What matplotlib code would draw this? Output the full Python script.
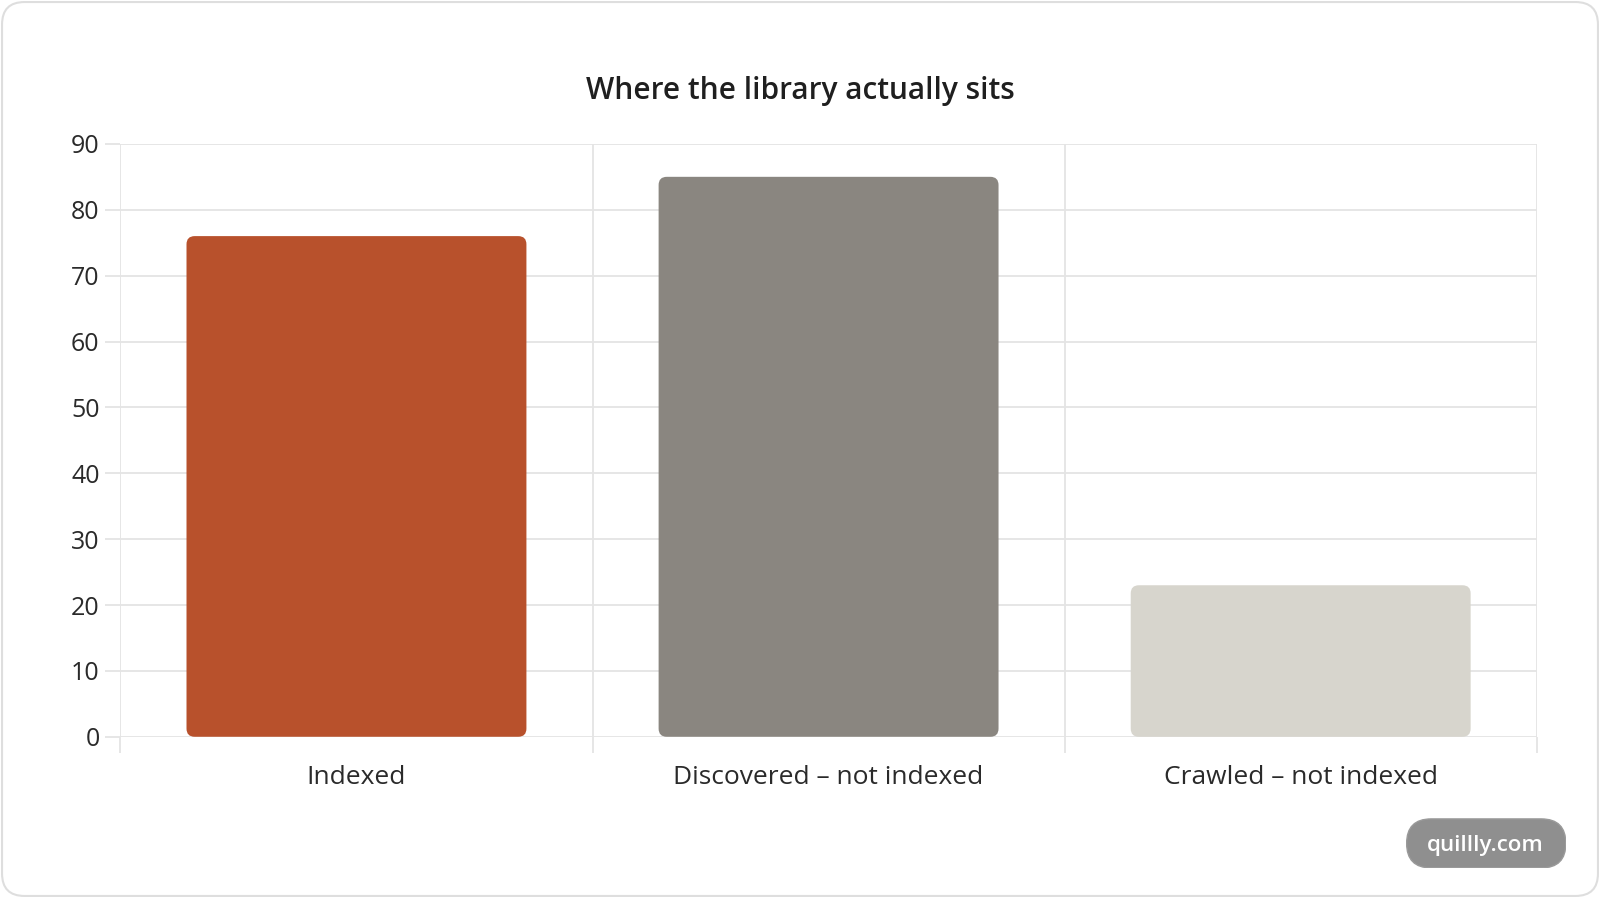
import matplotlib
matplotlib.use('Agg')
import matplotlib.pyplot as plt
from matplotlib.patches import FancyBboxPatch

# 数据
categories = ['Indexed', 'Discovered – not indexed', 'Crawled – not indexed']
values = [76, 85, 23]
colors = ['#B8512C', '#8A8680', '#D7D5CD']
y_ticks = [0, 10, 20, 30, 40, 50, 60, 70, 80, 90]
title = 'Where the library actually sits'

plt.rcParams['font.family'] = ['Open Sans', 'DejaVu Sans']

# 参考图按 1568x880 量的像素
W, H = 1568.0, 880.0
fig = plt.figure(figsize=(16, 8.98), dpi=100)
fig.patch.set_facecolor('white')

# 外框
bg = fig.add_axes([0, 0, 1, 1], zorder=-5)
bg.set_xlim(0, W)
bg.set_ylim(0, H)
bg.axis('off')
bg.add_patch(FancyBboxPatch((2, 2), W - 4, H - 4,
                            boxstyle='round,pad=0,rounding_size=22',
                            facecolor='white', edgecolor='#DEDEDE', linewidth=1.5))

left, right, top, bottom = 118, 1506, 141, 722
ax = fig.add_axes([left / W, 1 - bottom / H, (right - left) / W, (bottom - top) / H])
ax.set_facecolor('none')

x = list(range(len(categories)))
bars = ax.bar(x, values, width=0.72, color=colors, zorder=3)

# 圆角柱子：拿 bar 的位置换成 FancyBboxPatch
px_x = (right - left) / 3.0      # 每个类目宽的像素
px_y = (bottom - top) / 90.0     # 每单位 y 的像素
r = 8
for b, c in zip(bars, colors):
    b.set_visible(False)
    ax.add_patch(FancyBboxPatch((b.get_x(), b.get_y()), b.get_width(), b.get_height(),
                                boxstyle='round,pad=0,rounding_size=%f' % (r / px_x),
                                mutation_aspect=px_x / px_y,
                                facecolor=c, edgecolor='none', zorder=3))

ax.set_xlim(-0.5, 2.5)
ax.set_ylim(0, 90)
ax.set_yticks(y_ticks)
ax.set_xticks(x)
ax.set_xticklabels(categories)
ax.set_xticks([-0.5, 0.5, 1.5, 2.5], minor=True)

for s in ax.spines.values():
    s.set_visible(False)

grid_c = '#E4E4E4'
ax.grid(axis='y', color=grid_c, linewidth=1.3, zorder=0)
ax.grid(axis='x', which='minor', color=grid_c, linewidth=1.3, zorder=0)
ax.tick_params(axis='y', length=11, width=1.3, color=grid_c, pad=4,
               labelsize=18, labelcolor='#2a2a2a')
ax.tick_params(axis='x', which='major', length=0, pad=20,
               labelsize=19, labelcolor='#2a2a2a')
ax.tick_params(axis='x', which='minor', length=11.5, width=1.3, color=grid_c)

fig.text(784 / W, 1 - 89 / H, title, ha='center', va='center',
         fontsize=21.5, fontweight='semibold', color='#1f1f1f')

# 水印
wm = fig.add_axes([1378 / W, 1 - 851 / H, 157 / W, 49 / H])
wm.set_xlim(0, 157)
wm.set_ylim(0, 49)
wm.axis('off')
wm.add_patch(FancyBboxPatch((0.5, 0.5), 156, 48,
                            boxstyle='round,pad=0,rounding_size=24',
                            facecolor='#8F8F8F', edgecolor='#9a9a9a', linewidth=1))
wm.text(78, 22, 'quillly.com', ha='center', va='center',
        fontsize=16, fontweight='semibold', color='white')

fig.savefig('out.png', dpi=100)
